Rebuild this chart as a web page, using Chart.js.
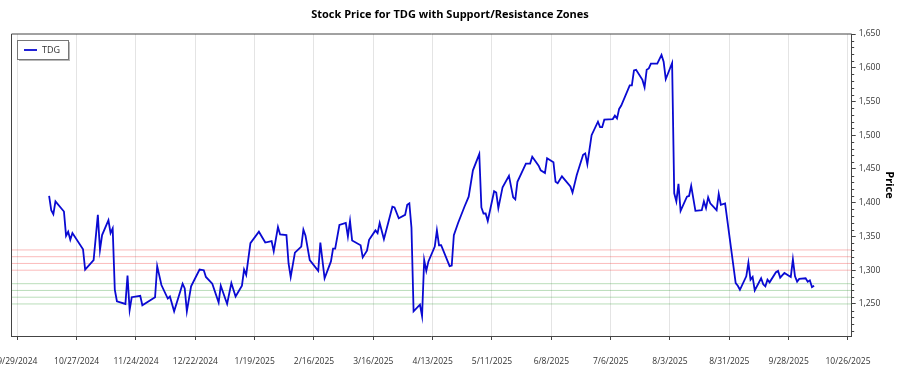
<!DOCTYPE html>
<html>
<head>
<meta charset="utf-8">
<script src="https://cdn.jsdelivr.net/npm/chart.js@4"></script>
<style>
html,body{margin:0;padding:0;background:#fff;}
canvas{display:block;}
</style>
</head>
<body>
<canvas id="c" width="900" height="375"></canvas>
<script>
const chartTitle = 'Stock Price for TDG with Support/Resistance Zones';
const seriesName = 'TDG';
const yAxisTitle = 'Price';

const dates = [
'2024-10-14','2024-10-15','2024-10-16','2024-10-17','2024-10-21','2024-10-22','2024-10-23','2024-10-24','2024-10-25','2024-10-30',
'2024-10-31','2024-11-04','2024-11-06','2024-11-07','2024-11-08','2024-11-11','2024-11-12','2024-11-13','2024-11-14','2024-11-15',
'2024-11-19','2024-11-20','2024-11-21','2024-11-22','2024-11-26','2024-11-27','2024-12-03','2024-12-04','2024-12-06','2024-12-09',
'2024-12-10','2024-12-12','2024-12-16','2024-12-17','2024-12-18','2024-12-20','2024-12-24','2024-12-26','2024-12-27','2024-12-30',
'2025-01-02','2025-01-03','2025-01-06','2025-01-08','2025-01-10','2025-01-13','2025-01-14','2025-01-15','2025-01-17','2025-01-21',
'2025-01-24','2025-01-27','2025-01-28','2025-01-30','2025-01-31','2025-02-03','2025-02-04','2025-02-05','2025-02-07','2025-02-10',
'2025-02-11','2025-02-12','2025-02-14','2025-02-18','2025-02-19','2025-02-21','2025-02-24','2025-02-25','2025-02-26','2025-02-28',
'2025-03-03','2025-03-04','2025-03-05','2025-03-06','2025-03-10','2025-03-11','2025-03-13','2025-03-14','2025-03-17','2025-03-18',
'2025-03-19','2025-03-21','2025-03-25','2025-03-26','2025-03-28','2025-03-31','2025-04-01','2025-04-02','2025-04-03','2025-04-04',
'2025-04-07','2025-04-08','2025-04-09','2025-04-10','2025-04-11','2025-04-14','2025-04-15','2025-04-16','2025-04-17','2025-04-21',
'2025-04-22','2025-04-23','2025-04-25','2025-04-28','2025-04-30','2025-05-02','2025-05-05','2025-05-06','2025-05-07','2025-05-08',
'2025-05-09','2025-05-12','2025-05-13','2025-05-14','2025-05-16','2025-05-19','2025-05-21','2025-05-22','2025-05-23','2025-05-27',
'2025-05-29','2025-05-30','2025-06-02','2025-06-03','2025-06-05','2025-06-06','2025-06-09','2025-06-10','2025-06-11','2025-06-13',
'2025-06-17','2025-06-18','2025-06-20','2025-06-23','2025-06-24','2025-06-25','2025-06-27','2025-06-30','2025-07-01','2025-07-02',
'2025-07-03','2025-07-07','2025-07-08','2025-07-09','2025-07-10','2025-07-11','2025-07-15','2025-07-16','2025-07-17','2025-07-18',
'2025-07-21','2025-07-22','2025-07-23','2025-07-24','2025-07-25','2025-07-28','2025-07-30','2025-07-31','2025-08-01','2025-08-04',
'2025-08-05','2025-08-06','2025-08-07','2025-08-08','2025-08-11','2025-08-12','2025-08-13','2025-08-15','2025-08-18','2025-08-19',
'2025-08-20','2025-08-21','2025-08-22','2025-08-25','2025-08-26','2025-08-27','2025-08-29','2025-09-03','2025-09-04','2025-09-05',
'2025-09-08','2025-09-09','2025-09-10','2025-09-11','2025-09-12','2025-09-15','2025-09-16','2025-09-17','2025-09-18','2025-09-19',
'2025-09-22','2025-09-23','2025-09-24','2025-09-26','2025-09-29','2025-09-30','2025-10-01','2025-10-02','2025-10-03','2025-10-06',
'2025-10-07','2025-10-08','2025-10-09','2025-10-10'
];

const prices = [
1410,1389,1383,1402,1387,1351,1357,1345,1355,1331,
1301,1315,1382,1330,1352,1374,1355,1362,1271,1254,
1250,1292,1241,1260,1262,1248,1260,1306,1278,1258,
1261,1239,1280,1273,1239,1276,1301,1300,1290,1280,
1252,1277,1250,1281,1261,1277,1301,1293,1340,1357,
1341,1343,1328,1364,1353,1352,1310,1290,1326,1335,
1360,1351,1315,1299,1341,1288,1313,1332,1332,1367,
1370,1350,1373,1344,1337,1319,1329,1345,1359,1355,
1370,1346,1394,1393,1377,1382,1397,1399,1363,1239,
1249,1232,1315,1299,1313,1335,1359,1337,1337,1306,
1307,1352,1370,1394,1409,1448,1472,1393,1384,1384,
1373,1417,1415,1392,1423,1440,1408,1405,1431,1458,
1458,1468,1455,1448,1444,1466,1460,1431,1429,1439,
1424,1415,1441,1471,1473,1457,1500,1520,1512,1512,
1523,1524,1529,1525,1539,1544,1574,1574,1596,1597,
1582,1571,1597,1599,1606,1606,1619,1609,1583,1607,
1414,1402,1428,1388,1409,1410,1425,1388,1389,1402,
1392,1408,1399,1389,1413,1397,1399,1281,1277,1271,
1291,1311,1286,1290,1270,1288,1279,1276,1286,1282,
1297,1299,1289,1296,1290,1316,1291,1283,1287,1288,
1283,1285,1275,1277
];

const supportLevels = [1250, 1260, 1270, 1280];
const resistanceLevels = [1300, 1310, 1320, 1330];

const xTickDates = ['2024-09-29','2024-10-27','2024-11-24','2024-12-22','2025-01-19','2025-02-16','2025-03-16',
  '2025-04-13','2025-05-11','2025-06-08','2025-07-06','2025-08-03','2025-08-31','2025-09-28','2025-10-26'];
const xRange = ['2024-09-26T06', '2025-10-27T18'];
const yTicks = [1250, 1300, 1350, 1400, 1450, 1500, 1550, 1600, 1650];
const yRange = [1202.5, 1650];
const yMinorStep = 10;

const FONT = "'Open Sans', 'Noto Sans', sans-serif";
const dayZero = Date.UTC(2024, 8, 29);
function dayOf(s) {
  const m = s.match(/(\d+)-(\d+)-(\d+)(?:T(\d+))?/);
  return (Date.UTC(+m[1], +m[2] - 1, +m[3], +(m[4] || 0)) - dayZero) / 86400000;
}
function fmtDay(v) {
  const d = new Date(dayZero + Math.round(v) * 86400000);
  return (d.getUTCMonth() + 1) + '/' + d.getUTCDate() + '/' + d.getUTCFullYear();
}
const xMin = dayOf(xRange[0]), xMax = dayOf(xRange[1]);

function levelDataset(level, color) {
  return {
    label: '', data: [{x: xMin, y: level}, {x: xMax, y: level}],
    borderColor: color, borderWidth: 1, pointRadius: 0, fill: false, order: 1
  };
}

const datasets = [
  {
    label: seriesName,
    data: dates.map((d, i) => ({x: dayOf(d), y: prices[i]})),
    borderColor: '#0a0ad2', borderWidth: 1.8, pointRadius: 0, tension: 0, fill: false, order: 0
  },
  ...resistanceLevels.map(l => levelDataset(l, 'rgba(240,60,60,0.35)')),
  ...supportLevels.map(l => levelDataset(l, 'rgba(40,150,40,0.32)'))
];

const framePlugin = {
  id: 'frame',
  afterDraw(chart) {
    const {ctx, chartArea: a} = chart;
    const ys = chart.scales.y;
    ctx.save();
    ctx.strokeStyle = '#444';
    ctx.lineWidth = 1;
    ctx.beginPath();
    ctx.moveTo(a.left, a.bottom); ctx.lineTo(a.left, a.top); ctx.lineTo(a.right, a.top);
    ctx.stroke();
    // minor ticks on price axis
    ctx.beginPath();
    for (let v = Math.ceil(yRange[0] / yMinorStep) * yMinorStep; v <= yRange[1]; v += yMinorStep) {
      if (yTicks.includes(v)) continue;
      const py = Math.round(ys.getPixelForValue(v)) + 0.5;
      ctx.moveTo(ys.left, py); ctx.lineTo(ys.left + 2.5, py);
    }
    ctx.stroke();
    // legend box
    const ds = chart.data.datasets[0];
    const x = a.left + 5.5, y = a.top + 6, w = 51, h = 19;
    ctx.fillStyle = 'rgba(0,0,0,0.28)';
    ctx.fillRect(x + 2, y + 2, w, h);
    ctx.fillStyle = '#fff';
    ctx.fillRect(x, y, w, h);
    ctx.strokeStyle = '#777';
    ctx.strokeRect(Math.round(x) + 0.5, Math.round(y) + 0.5, w, h);
    ctx.strokeStyle = ds.borderColor;
    ctx.lineWidth = 1.8;
    ctx.beginPath();
    ctx.moveTo(x + 7, y + 10); ctx.lineTo(x + 20, y + 10);
    ctx.stroke();
    ctx.fillStyle = '#333';
    ctx.font = "9px " + FONT;
    ctx.textBaseline = 'middle';
    ctx.fillText(ds.label, x + 25, y + 10.5);
    ctx.restore();
  }
};

new Chart(document.getElementById('c'), {
  type: 'line',
  data: {datasets},
  plugins: [framePlugin],
  options: {
    responsive: false,
    animation: false,
    devicePixelRatio: 1,
    layout: {padding: 0, autoPadding: false},
    plugins: {
      legend: {display: false},
      tooltip: {enabled: false},
      title: {
        display: true, text: chartTitle, color: '#000',
        font: {family: FONT, size: 11, weight: 'bold'},
        padding: {top: 8, bottom: 12.8}
      }
    },
    scales: {
      x: {
        type: 'linear', min: xMin, max: xMax,
        afterBuildTicks: s => { s.ticks = xTickDates.map(d => ({value: dayOf(d)})); },
        afterFit: s => { s.height = 39; s.paddingLeft = 11.5; s.paddingRight = 0; },
        grid: {color: '#e4e4e4', lineWidth: 1, tickColor: '#444', tickLength: 4},
        border: {color: '#444', width: 1},
        ticks: {
          callback: v => fmtDay(v), maxRotation: 0, autoSkip: false, padding: 16,
          color: '#333', font: {family: FONT, size: 8.5}
        }
      },
      y: {
        type: 'linear', position: 'right', min: yRange[0], max: yRange[1],
        afterBuildTicks: s => { s.ticks = yTicks.map(v => ({value: v})); },
        afterFit: s => { s.width = 48.3; s.paddingTop = 0; s.paddingBottom = 0; },
        grid: {drawOnChartArea: false, tickColor: '#444', tickLength: 4},
        border: {color: '#444', width: 1},
        ticks: {
          callback: v => v.toLocaleString('en-US'), padding: 3,
          color: '#333', font: {family: FONT, size: 8.5}
        },
        title: {
          display: true, text: yAxisTitle, color: '#000',
          font: {family: FONT, size: 11, weight: 'bold'},
          padding: {top: 4, bottom: 0}
        }
      }
    }
  }
});
</script>
</body>
</html>
